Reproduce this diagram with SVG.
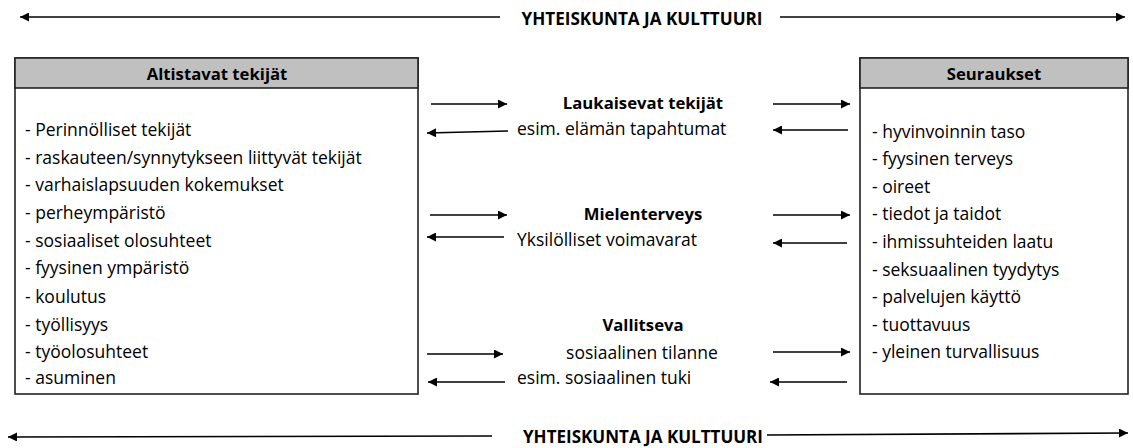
<svg xmlns="http://www.w3.org/2000/svg" width="1133" height="448" viewBox="0 0 1133 448">
<style>
.t{font-family:"Open Sans","Liberation Sans",Arial,sans-serif;font-size:17.5px;fill:#000}
.b{font-family:"Open Sans","Liberation Sans",Arial,sans-serif;font-size:16.7px;font-weight:bold;fill:#000}
.h{font-family:"Open Sans","Liberation Sans",Arial,sans-serif;font-size:17px;font-weight:bold;fill:#000}
.box{fill:#fff;stroke:#222;stroke-width:1.6}
.hdr{fill:#c0c0c0;stroke:#222;stroke-width:1.6}
.ln{stroke:#000;stroke-width:1.6;fill:none}
</style>
<defs>
<marker id="ah" viewBox="0 0 10 10" refX="10" refY="5" markerWidth="10" markerHeight="9" markerUnits="userSpaceOnUse" orient="auto">
<path d="M0,0 L10,5 L0,10 z" fill="#000"/>
</marker>
</defs>
<g id="connectors">
<line class="ln" x1="500" y1="17" x2="20" y2="17" marker-end="url(#ah)"/>
<line class="ln" x1="780" y1="17" x2="1125" y2="17" marker-end="url(#ah)"/>
<line class="ln" x1="492" y1="436" x2="8" y2="437" marker-end="url(#ah)"/>
<line class="ln" x1="767" y1="435" x2="1128" y2="433" marker-end="url(#ah)"/>
<line class="ln" x1="431" y1="104" x2="507" y2="104" marker-end="url(#ah)"/>
<line class="ln" x1="773" y1="104" x2="850" y2="104" marker-end="url(#ah)"/>
<line class="ln" x1="508" y1="131" x2="427" y2="133" marker-end="url(#ah)"/>
<line class="ln" x1="848" y1="130" x2="773" y2="130" marker-end="url(#ah)"/>
<line class="ln" x1="430" y1="215" x2="507" y2="215" marker-end="url(#ah)"/>
<line class="ln" x1="773" y1="215" x2="850" y2="215" marker-end="url(#ah)"/>
<line class="ln" x1="504" y1="237" x2="427" y2="237" marker-end="url(#ah)"/>
<line class="ln" x1="847" y1="243" x2="773" y2="243" marker-end="url(#ah)"/>
<line class="ln" x1="427" y1="354" x2="503" y2="354" marker-end="url(#ah)"/>
<line class="ln" x1="773" y1="352" x2="850" y2="352" marker-end="url(#ah)"/>
<line class="ln" x1="505" y1="382" x2="428" y2="382" marker-end="url(#ah)"/>
<line class="ln" x1="847" y1="382" x2="770" y2="382" marker-end="url(#ah)"/>
</g>
<g id="society-top">
<text class="h" x="642" y="25" text-anchor="middle" textLength="241" lengthAdjust="spacingAndGlyphs">YHTEISKUNTA JA KULTTUURI</text>
</g>
<g id="society-bottom">
<text class="h" x="643" y="443" text-anchor="middle" textLength="240" lengthAdjust="spacingAndGlyphs">YHTEISKUNTA JA KULTTUURI</text>
</g>
<g id="altistavat">
<rect class="box" x="15" y="58" width="403" height="336"/>
<rect class="hdr" x="15" y="58" width="403" height="30"/>
<text class="b" x="217" y="80" text-anchor="middle">Altistavat tekijät</text>
<text class="t" x="25" y="136">- Perinnölliset tekijät</text>
<text class="t" x="25" y="164">- raskauteen/synnytykseen liittyvät tekijät</text>
<text class="t" x="25" y="191">- varhaislapsuuden kokemukset</text>
<text class="t" x="25" y="219">- perheympäristö</text>
<text class="t" x="25" y="247">- sosiaaliset olosuhteet</text>
<text class="t" x="25" y="274">- fyysinen ympäristö</text>
<text class="t" x="25" y="303">- koulutus</text>
<text class="t" x="25" y="331">- työllisyys</text>
<text class="t" x="25" y="358">- työolosuhteet</text>
<text class="t" x="25" y="384">- asuminen</text>
</g>
<g id="seuraukset">
<rect class="box" x="860" y="58" width="268" height="336"/>
<rect class="hdr" x="860" y="58" width="268" height="30"/>
<text class="b" x="994" y="80" text-anchor="middle">Seuraukset</text>
<text class="t" x="872" y="138">- hyvinvoinnin taso</text>
<text class="t" x="872" y="165">- fyysinen terveys</text>
<text class="t" x="872" y="193">- oireet</text>
<text class="t" x="872" y="220">- tiedot ja taidot</text>
<text class="t" x="872" y="248">- ihmissuhteiden laatu</text>
<text class="t" x="872" y="276">- seksuaalinen tyydytys</text>
<text class="t" x="872" y="303">- palvelujen käyttö</text>
<text class="t" x="872" y="331">- tuottavuus</text>
<text class="t" x="872" y="358">- yleinen turvallisuus</text>
</g>
<g id="laukaisevat">
<text class="b" x="643" y="109" text-anchor="middle">Laukaisevat tekijät</text>
<text class="t" x="517" y="135">esim. elämän tapahtumat</text>
</g>
<g id="mielenterveys">
<text class="b" x="643" y="220" text-anchor="middle">Mielenterveys</text>
<text class="t" x="517" y="246">Yksilölliset voimavarat</text>
</g>
<g id="vallitseva">
<text class="b" x="643" y="331" text-anchor="middle">Vallitseva</text>
<text class="t" x="642" y="359" text-anchor="middle">sosiaalinen tilanne</text>
<text class="t" x="517" y="384">esim. sosiaalinen tuki</text>
</g>
</svg>
